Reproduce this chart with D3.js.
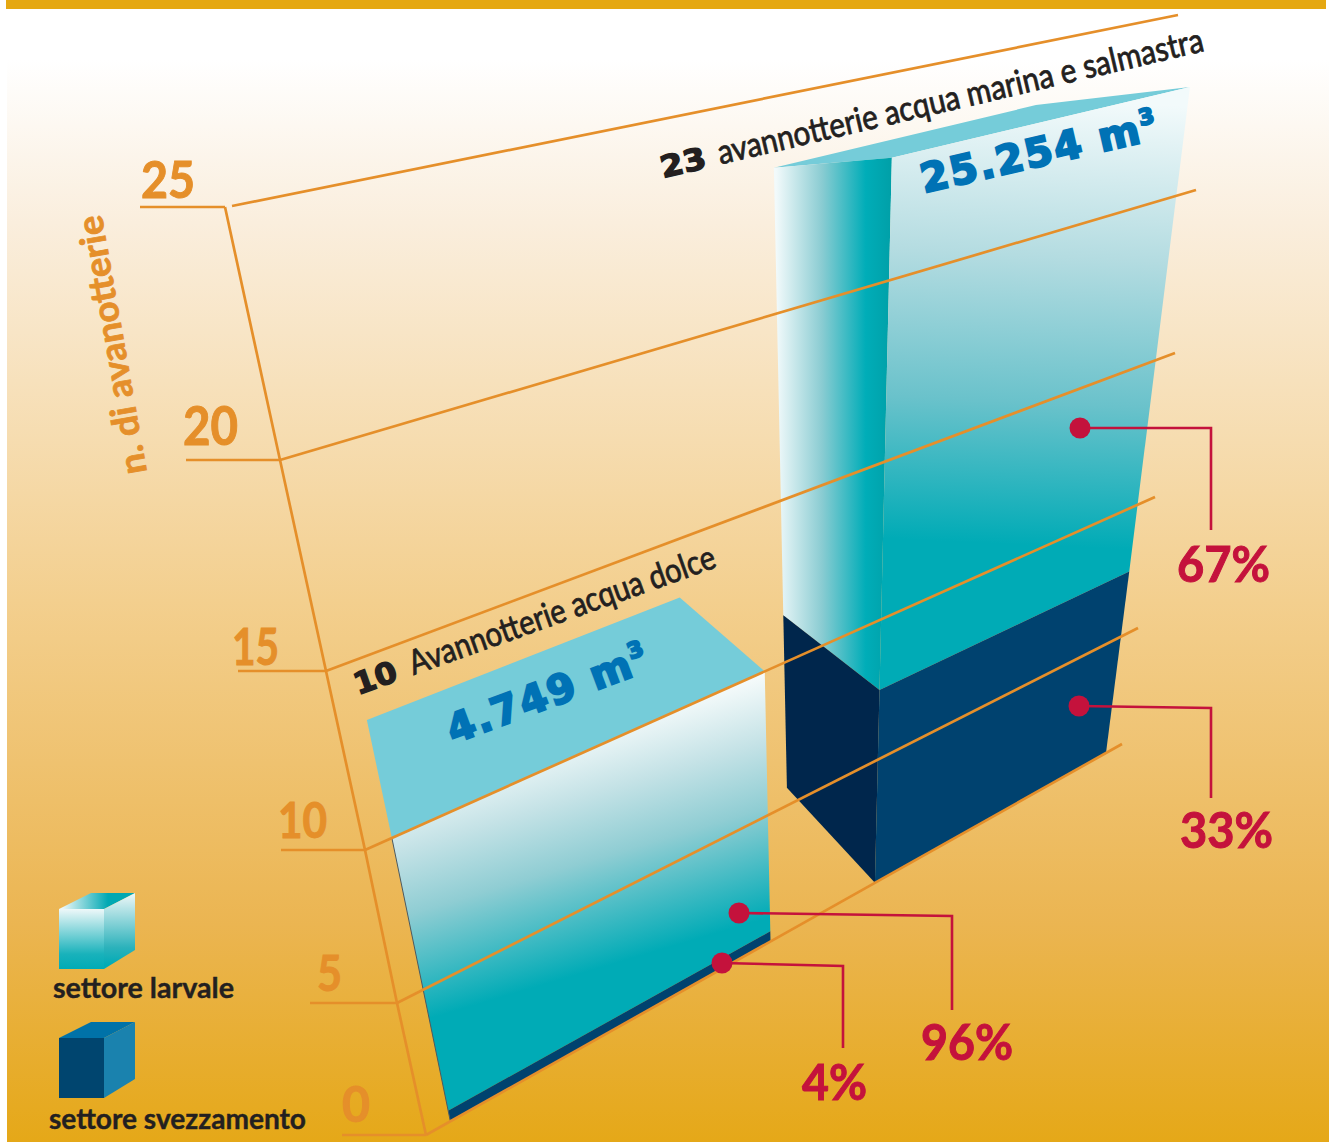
<!DOCTYPE html>
<html lang="it">
<head>
<meta charset="utf-8">
<title>Avannotterie</title>
<script src="https://cdn.jsdelivr.net/npm/d3@7"></script>
<style>
  html, body { margin: 0; background: #fff; }
  svg { display: block; }
  text { font-family: Lato, "Noto Sans", sans-serif; }
</style>
</head>
<body>
<svg id="chart" width="1334" height="1142"></svg>
<script>
// Values
const tickValues = [0, 5, 10, 15, 20, 25];
const hatcheryCounts = [10, 23];
const hatcheryNames = ["Avannotterie acqua dolce", "avannotterie acqua marina e salmastra"];
const volumes = ["4.749", "25.254"];
const larvalShares = [96, 67];
const weaningShares = [4, 33];
const legendLabels = ["settore larvale", "settore svezzamento"];

// Colours
const ORANGE = "#e58f2a", RED = "#c4123c", INK = "#231f20", BLUE = "#0072b5";
const TEAL = "#00abb6", TOP = "#75ccd9", DARK = "#00426f", DARKER = "#00264c";

const svg = d3.select("#chart");
const defs = svg.append("defs");

function linearGradient(id, [x1, y1, x2, y2], stops) {
  const g = defs.append("linearGradient").attr("id", id)
    .attr("gradientUnits", "userSpaceOnUse")
    .attr("x1", x1).attr("y1", y1).attr("x2", x2).attr("y2", y2);
  stops.forEach(([o, c]) => g.append("stop").attr("offset", o).attr("stop-color", c));
  return `url(#${id})`;
}

// The value axis runs along the near edge of a receding wall; each tick is a
// line across that wall, so a point on it is (depth t, value v).
const nearX = d3.scaleLinear().domain(tickValues).range([426, 397, 365, 326, 280, 232]);
const nearY = d3.scaleLinear().domain(tickValues).range([1135, 1003, 850, 671, 460, 206]);
const farX = d3.scaleLinear().domain(tickValues).range([1122, 1138, 1155, 1175, 1196, 1178]);
const farY = d3.scaleLinear().domain(tickValues).range([744, 628, 497, 353, 190, 15]);
const axisX = d3.scaleLinear().domain(tickValues).range([426, 397, 365, 326, 280, 225]);
const axisY = d3.scaleLinear().domain(tickValues).range([1135, 1003, 850, 671, 460, 207]);

const wall = (t, v) => [
  nearX(v) + t * (farX(v) - nearX(v)),
  nearY(v) + t * (farY(v) - nearY(v))
];

// Where the edge a-b crosses the wall line of value v.
function edgeAtValue(a, b, v) {
  const p = wall(0, v), q = wall(1, v);
  const dx = q[0] - p[0], dy = q[1] - p[1];
  const ex = b[0] - a[0], ey = b[1] - a[1];
  const s = ((p[0] - a[0]) * dy - (p[1] - a[1]) * dx) / (ex * dy - ey * dx);
  return { point: [a[0] + s * ex, a[1] + s * ey], s };
}

const shift = (p, [dx, dy]) => [p[0] + dx, p[1] + dy];
const lerp = (a, b, s) => [a[0] + s * (b[0] - a[0]), a[1] + s * (b[1] - a[1])];
const poly = (pts, fill, sel = svg) =>
  sel.append("polygon").attr("points", pts.map(p => p.join(",")).join(" ")).attr("fill", fill);

// Page background
svg.append("rect").attr("x", 6).attr("y", 0).attr("width", 1320).attr("height", 9).attr("fill", "#e5a812");
const bgGrad = linearGradient("bg", [0, 60, 0, 1142], [
  [0, "#ffffff"], [0.15, "#faeedd"], [0.5, "#f3cf8e"], [0.8, "#ebb551"], [1, "#e5a818"]
]);
svg.append("rect").attr("x", 7).attr("y", 60).attr("width", 1322).attr("height", 1082).attr("fill", bgGrad);

const gridLine = d3.line();
const gridLayer = svg.append("g").attr("fill", "none").attr("stroke", ORANGE).attr("stroke-width", 2.7);

// Base line sits under the blocks
gridLayer.append("path").attr("d", gridLine([wall(0, 0), wall(1, 0)]));

// Freshwater block
{
  const i = 0, total = hatcheryCounts[i];
  const v = total * weaningShares[i] / 100;
  const bl = wall(0.035, 0), br = wall(0.495, 0), tl = wall(0.034, total), tr = wall(0.506, total);
  const ml = edgeAtValue(bl, tl, v).point, mr = edgeAtValue(br, tr, v).point;
  poly([shift(tl, [-25, -118]), shift(tr, [-85, -74]), tr, tl], TOP);
  const fill = linearGradient("fresh", [764, 674, 831, 899], [
    [0, "#f6fbfb"], [0.28, "#c4e2e6"], [0.55, "#8fcdd3"], [1, TEAL]
  ]);
  poly([tl, tr, mr, ml], fill);
  poly([ml, mr, br, bl], DARK);
  svg.append("path").attr("d", d3.line()([tl, bl])).attr("stroke", "#4d5a60").attr("stroke-width", 1).attr("fill", "none");
}

// Marine block
{
  const i = 1, total = hatcheryCounts[i];
  const v = total * weaningShares[i] / 100;
  const bl = wall(0.645, 0), br = wall(0.977, 0);
  const tl = shift(wall(0.687, total), [-1, 3]), tr = shift(wall(1.004, total), [1, 3]);
  const hitL = edgeAtValue(bl, tl, v), hitR = edgeAtValue(br, tr, v);
  const ml = shift(hitL.point, [0, 3]), mr = shift(hitR.point, [0, 3]);
  const bk = shift(bl, [-88, -95]), tk = shift(tl, [-118, 10]);
  const mk = lerp(bk, tk, hitL.s * 1.03);
  poly([tk, shift(tr, [-154, 18]), tr, tl], TOP);
  const side = linearGradient("marineSide", [776, 0, 891, 0], [
    [0, "#f2fafb"], [0.4, "#8accd2"], [0.78, "#00adb8"], [1, "#00a0a8"]
  ]);
  poly([tk, tl, ml, mk], side);
  poly([mk, ml, bl, bk], DARKER);
  const front = linearGradient("marineFront", [1050, 100, 1030, 545], [
    [0, "#f2fafb"], [0.35, "#b4dce1"], [0.68, "#6ac2cb"], [1, TEAL]
  ]);
  poly([tl, tr, mr, ml], front);
  poly([ml, mr, br, bl], DARK);
}

// Remaining wall lines run across the blocks
tickValues.slice(1).forEach(t => {
  gridLayer.raise().append("path").attr("d", gridLine([wall(0, t), wall(1, t)]));
});

// Value axis with its ticks
const axisLayer = svg.append("g").attr("fill", "none").attr("stroke", ORANGE).attr("stroke-width", 2.7);
axisLayer.append("path").attr("d", d3.line()(tickValues.map(t => [axisX(t), axisY(t)])));
const tickLength = d3.scaleOrdinal().domain(tickValues).range([84, 87, 84, 88, 94, 85]);
tickValues.forEach(t => {
  axisLayer.append("path").attr("d", d3.line()([[axisX(t) - tickLength(t), axisY(t)], [axisX(t), axisY(t)]]));
});

const tickFont = d3.scaleOrdinal().domain(tickValues).range([50, 50, 50, 52, 53, 52]);
const tickEnd = d3.scaleOrdinal().domain(tickValues).range([370, 342, 327, 279, 238, 195]);
const tickBase = d3.scaleOrdinal().domain(tickValues).range([1122, 991, 838, 665, 445, 198]);
const tickWidth = d3.scaleOrdinal().domain(tickValues).range([28, 25, 49, 47, 55, 54]);
svg.append("g").selectAll("text").data(tickValues).join("text")
  .attr("x", t => tickEnd(t) - tickWidth(t)).attr("y", t => tickBase(t))
  .attr("fill", ORANGE).attr("stroke", ORANGE).attr("stroke-width", 1).attr("font-weight", 700)
  .attr("font-size", t => tickFont(t))
  .attr("textLength", t => tickWidth(t)).attr("lengthAdjust", "spacingAndGlyphs")
  .text(t => t);

svg.append("text")
  .attr("transform", "translate(147,472) rotate(-100)")
  .attr("fill", ORANGE).attr("stroke", ORANGE).attr("stroke-width", 0.8)
  .attr("font-weight", 700).attr("font-size", 36)
  .attr("textLength", 262).attr("lengthAdjust", "spacingAndGlyphs")
  .text("n. di avanotterie");

// Block headings, set along each block's top edge
function heading(x, y, angle, count, countWidth, gap, name, nameWidth) {
  const g = svg.append("g").attr("transform", `translate(${x},${y}) rotate(${angle})`).attr("fill", INK);
  g.append("text").style("font-family", "'DejaVu Sans'")
    .attr("font-weight", 700).attr("font-size", 30).attr("stroke", INK).attr("stroke-width", 1.4)
    .attr("textLength", countWidth).attr("lengthAdjust", "spacingAndGlyphs").text(count);
  g.append("text").attr("x", countWidth + gap).attr("font-size", 34)
    .attr("stroke", INK).attr("stroke-width", 0.8)
    .attr("textLength", nameWidth).attr("lengthAdjust", "spacingAndGlyphs").text(name);
}
heading(663, 178, -13.2, hatcheryCounts[1], 46, 13, hatcheryNames[1], 498);
heading(358, 695, -19.6, hatcheryCounts[0], 44, 15, hatcheryNames[0], 323);

function volumeLabel(x, y, angle, value, size) {
  const t = svg.append("text").attr("transform", `translate(${x},${y}) rotate(${angle})`)
    .style("font-family", "'DejaVu Sans'").attr("font-weight", 700).attr("font-size", size)
    .attr("fill", BLUE).attr("stroke", BLUE).attr("stroke-width", 2.2).attr("letter-spacing", 2);
  t.append("tspan").text(`${value} m`);
  t.append("tspan").attr("dy", -size * 0.42).attr("font-size", size * 0.55).text("3");
}
volumeLabel(924, 193, -13, volumes[1], 40);
volumeLabel(453, 744, -20.5, volumes[0], 40);

// Share call-outs
const callouts = [
  { share: larvalShares[1], path: [[1080, 428], [1211, 428], [1211, 530]], label: [1177, 582], width: 93 },
  { share: weaningShares[1], path: [[1079, 706], [1211, 708], [1211, 798]], label: [1180, 848], width: 93 },
  { share: larvalShares[0], path: [[739, 913], [952, 916], [952, 1010]], label: [921, 1060], width: 92 },
  { share: weaningShares[0], path: [[722, 963], [843, 966], [843, 1048]], label: [802, 1100], width: 65 }
];
const calloutLayer = svg.append("g");
callouts.forEach(c => {
  calloutLayer.append("path").attr("d", d3.line()(c.path)).attr("fill", "none").attr("stroke", RED).attr("stroke-width", 2.6);
  calloutLayer.append("circle").attr("cx", c.path[0][0]).attr("cy", c.path[0][1]).attr("r", 10.5).attr("fill", RED);
  calloutLayer.append("text").attr("x", c.label[0]).attr("y", c.label[1])
    .attr("fill", RED).attr("stroke", RED).attr("stroke-width", 1).attr("font-weight", 700).attr("font-size", 50)
    .attr("textLength", c.width).attr("lengthAdjust", "spacingAndGlyphs").text(`${c.share}%`);
});

// Legend cubes
const cube = (x, y, top, front, right) => {
  poly([[x, y + 16], [x + 32, y], [x + 76, y], [x + 45, y + 16]], top);
  poly([[x, y + 16], [x + 45, y + 16], [x + 45, y + 76], [x, y + 76]], front);
  poly([[x + 45, y + 16], [x + 76, y], [x + 76, y + 57], [x + 45, y + 76]], right);
};
cube(59, 893,
  linearGradient("lgTop", [62, 0, 108, 0], [[0, "#eef8f9"], [1, "#00a8b3"]]),
  linearGradient("lgFront", [0, 909, 0, 969], [[0, "#eef8f9"], [0.75, "#19b2bb"], [1, "#00abb6"]]),
  linearGradient("lgRight", [0, 895, 0, 965], [[0, "#e8f5f6"], [0.75, "#2cb2bb"], [1, "#00abb6"]]));
cube(59, 1022, "#0072a8", "#00456f", "#1a82ae");
svg.append("g").selectAll("text").data(legendLabels).join("text")
  .attr("x", (d, i) => [53, 49][i]).attr("y", (d, i) => [998, 1129][i])
  .attr("fill", INK).attr("stroke", INK).attr("stroke-width", 0.4).attr("font-weight", 700).attr("font-size", 29)
  .attr("textLength", (d, i) => [181, 257][i]).attr("lengthAdjust", "spacingAndGlyphs")
  .text(d => d);
</script>
</body>
</html>
